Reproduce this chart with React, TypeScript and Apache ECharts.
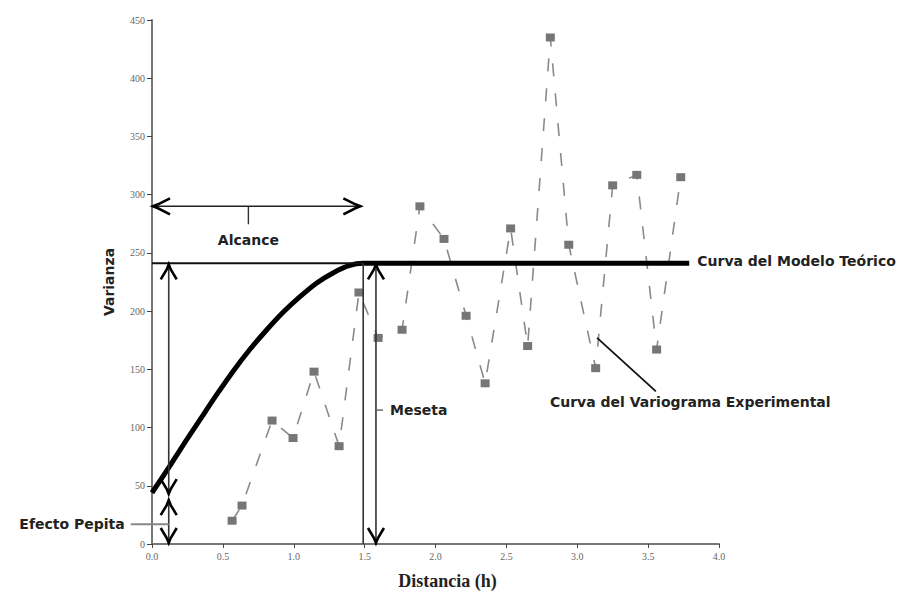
import React, { useEffect, useRef } from "react";
import * as echarts from "echarts";

// Experimental variogram (distance h, variance)
const expDist = [0.565, 0.635, 0.847, 0.995, 1.143, 1.32, 1.46, 1.595, 1.764, 1.89, 2.06, 2.216, 2.35, 2.53, 2.65, 2.81, 2.94, 3.13, 3.25, 3.42, 3.56, 3.73];
const expVar = [20, 33, 106, 91, 148, 84, 216, 177, 184, 290, 262, 196, 138, 271, 170, 435, 257, 151, 308, 317, 167, 315];

// Theoretical model curve
const modelDist = [0, 0.11, 0.22, 0.34, 0.455, 0.57, 0.69, 0.81, 0.925, 1.04, 1.16, 1.28, 1.39, 1.49, 3.79];
const modelVar = [44, 64, 85, 107, 128, 148, 167, 184, 199, 212, 224, 233, 239, 241, 241];

// Key values of the annotations
const nugget = 42;
const sill = 241;
const range = 1.49;
const alcanceY = 290;
const alcanceTickX = 0.68;
const nuggetArrowX = 0.118;
const mesetaArrowX = 1.58;
const pepitaLeaderY = 17;
const mesetaLabelY = 115;
const expLabel = [2.807, 122];
const expLeaderFrom = [3.14, 177];
const expLeaderTo = [3.555, 131];

const LABEL_FONT = 'bold 14px "DejaVu Sans", Verdana, sans-serif';

export default function App() {
  const ref = useRef<HTMLDivElement>(null);

  useEffect(() => {
    if (!ref.current) return;
    const chart = echarts.init(ref.current, null, { renderer: "svg" });
    chart.setOption({
      animation: false,
      backgroundColor: "#ffffff",
      grid: { left: 152, right: 198, top: 20, bottom: 47 },
      xAxis: {
        type: "value",
        min: 0,
        max: 4,
        interval: 0.5,
        name: "Distancia (h)",
        nameLocation: "middle",
        nameGap: 28,
        nameTextStyle: { fontFamily: '"Liberation Serif", serif', fontWeight: "bold", fontSize: 18, color: "#222", padding: [0, 0, 0, 24] },
        axisLine: { lineStyle: { color: "#777", width: 2 } },
        axisTick: { show: true, length: 4, lineStyle: { color: "#444", width: 1 } },
        axisLabel: { formatter: (v: number) => v.toFixed(1), fontFamily: '"Liberation Serif", serif', fontSize: 10, color: "#666", margin: 7 },
        splitLine: { show: false },
      },
      yAxis: {
        type: "value",
        min: 0,
        max: 450,
        interval: 50,
        name: "Varianza",
        nameLocation: "middle",
        nameGap: 36,
        nameRotate: 90,
        nameTextStyle: { fontFamily: '"DejaVu Sans", Verdana, sans-serif', fontWeight: "bold", fontSize: 14, color: "#222" },
        axisLine: { show: true, lineStyle: { color: "#777", width: 2 } },
        axisTick: { show: true, length: 5, lineStyle: { color: "#444", width: 1 } },
        axisLabel: { fontFamily: '"Liberation Serif", serif', fontSize: 10, color: "#666", margin: 7 },
        splitLine: { show: false },
      },
      series: [
        {
          name: "Curva del Variograma Experimental",
          type: "line",
          data: expDist.map((d, i) => [d, expVar[i]]),
          symbol: "rect",
          symbolSize: [9, 8],
          itemStyle: { color: "#767676" },
          lineStyle: { color: "#8a8a8a", width: 1.6, type: [13, 17] },
          z: 2,
        },
        {
          name: "Curva del Modelo Teórico",
          type: "line",
          data: modelDist.map((d, i) => [d, modelVar[i]]),
          smooth: 0.3,
          showSymbol: false,
          symbol: "none",
          lineStyle: { color: "#000", width: 5 },
          z: 3,
        },
      ],
    });

    const p = (x: number, y: number) => chart.convertToPixel({ gridIndex: 0 }, [x, y]) as number[];
    const line = (a: number[], b: number[], color = "#111", width = 1.6) => ({
      type: "line",
      shape: { x1: a[0], y1: a[1], x2: b[0], y2: b[1] },
      style: { stroke: color, lineWidth: width },
      z: 10,
    });
    const head = (tip: number[], dir: "up" | "down" | "left" | "right") => {
      const L = 15, W = 8;
      let pts: number[][];
      const [x, y] = tip;
      if (dir === "up") pts = [[x - W, y + L], [x - 2, y + 5], [x, y], [x + 2, y + 5], [x + W, y + L]];
      else if (dir === "down") pts = [[x - W, y - L], [x - 2, y - 5], [x, y], [x + 2, y - 5], [x + W, y - L]];
      else if (dir === "left") pts = [[x + L + 2, y - W], [x + 5, y - 2], [x, y], [x + 5, y + 2], [x + L + 2, y + W]];
      else pts = [[x - L - 2, y - W], [x - 5, y - 2], [x, y], [x - 5, y + 2], [x - L - 2, y + W]];
      return { type: "polyline", shape: { points: pts }, style: { stroke: "#000", lineWidth: 2.6, fill: null }, z: 11 };
    };
    const text = (t: string, pos: number[], align = "left") => ({
      type: "text",
      x: pos[0],
      y: pos[1],
      style: { text: t, font: LABEL_FONT, fill: "#222", align, verticalAlign: "middle" },
      z: 12,
    });

    const sillL = p(0, sill);
    const sillR = p(range, sill);
    const rangeB = p(range, 0);
    const nTop = p(nuggetArrowX, sill);
    const nMid = p(nuggetArrowX, nugget);
    const nBot = p(nuggetArrowX, 0);
    const mTop = p(mesetaArrowX, sill);
    const mBot = p(mesetaArrowX, 0);
    const aL = p(0, alcanceY);
    const aR = p(range - 0.02, alcanceY);
    const aTick = p(alcanceTickX, alcanceY);
    const pep = p(nuggetArrowX, pepitaLeaderY);
    const mesLbl = p(mesetaArrowX, mesetaLabelY);
    const modelEnd = p(modelDist[modelDist.length - 1], sill);
    const expL = p(expLabel[0], expLabel[1]);
    const elA = p(expLeaderFrom[0], expLeaderFrom[1]);
    const elB = p(expLeaderTo[0], expLeaderTo[1]);

    const graphics: any[] = [
      // sill reference line and range vertical line
      line(sillL, sillR, "#111", 2),
      line(sillR, rangeB, "#333", 1.6),
      // sill arrow (left)
      line([nTop[0], nTop[1] + 1], [nMid[0], nMid[1] - 1], "#333", 1.6),
      head([nTop[0], nTop[1] + 1], "up"),
      head([nMid[0], nMid[1] - 1], "down"),
      // nugget arrow
      line([nMid[0], nMid[1] + 5], [nBot[0], nBot[1] - 1], "#333", 1.6),
      head([nMid[0], nMid[1] + 5], "up"),
      head([nBot[0], nBot[1] - 1], "down"),
      // Efecto Pepita leader
      line([pep[0] - 38, pep[1]], [pep[0], pep[1]], "#888", 2),
      text("Efecto Pepita", [pep[0] - 44, pep[1]], "right"),
      // Meseta arrow
      line([mTop[0], mTop[1] + 1], [mBot[0], mBot[1] - 1], "#333", 1.6),
      head([mTop[0], mTop[1] + 1], "up"),
      head([mBot[0], mBot[1] - 1], "down"),
      line([mesLbl[0] + 1, mesLbl[1]], [mesLbl[0] + 7, mesLbl[1]], "#555", 1.3),
      text("Meseta", [mesLbl[0] + 14, mesLbl[1]]),
      // Alcance arrow
      line([aL[0] + 1, aL[1]], [aR[0], aR[1]], "#222", 1.6),
      head([aL[0] + 1, aL[1]], "left"),
      head([aR[0], aR[1]], "right"),
      line(aTick, [aTick[0], aTick[1] + 18], "#333", 1.4),
      text("Alcance", [aTick[0], aTick[1] + 34], "center"),
      // Model label
      text("Curva del Modelo Teórico", [modelEnd[0] + 8, modelEnd[1] - 2]),
      // Experimental label + leader
      line(elA, elB, "#111", 1.8),
      text("Curva del Variograma Experimental", [expL[0], expL[1]]),
    ];
    chart.setOption({ graphic: graphics });

    return () => chart.dispose();
  }, []);

  return (
    <div
      ref={ref}
      style={{ position: "fixed", left: 0, top: 0, width: 917, height: 595, background: "#fff" }}
    />
  );
}
